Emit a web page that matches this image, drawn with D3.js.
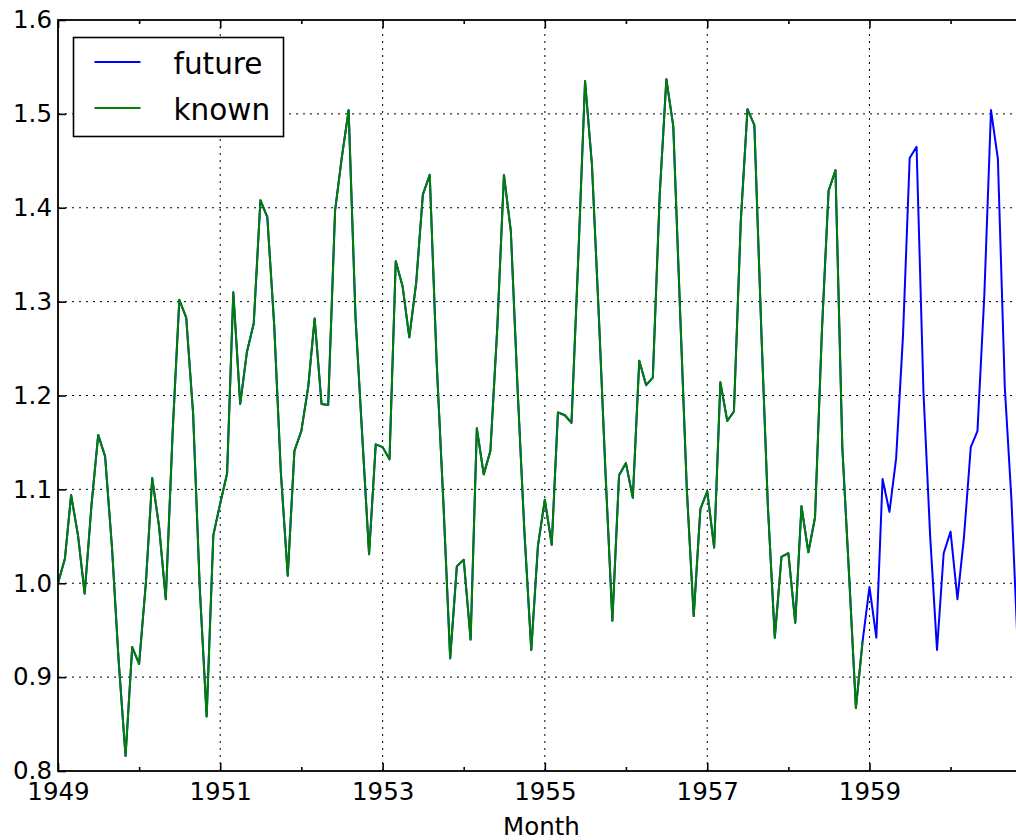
<!DOCTYPE html>
<html>
<head>
<meta charset="utf-8">
<script src="https://cdn.jsdelivr.net/npm/d3@7/dist/d3.min.js"></script>
<style>
  body { margin: 0; overflow: hidden; background: #fff; }
  svg { display: block; }
</style>
</head>
<body>
<script>
// monthly ratio values, Jan 1949 onwards
var knownValues = [
  1.000, 1.026, 1.094, 1.051, 0.989, 1.084, 1.158, 1.135, 1.038, 0.917, 0.816, 0.932,
  0.914, 1.002, 1.112, 1.060, 0.983, 1.161, 1.302, 1.283, 1.181, 0.995, 0.858, 1.051,
  1.085, 1.117, 1.310, 1.191, 1.246, 1.277, 1.408, 1.390, 1.275, 1.118, 1.008, 1.141,
  1.162, 1.209, 1.282, 1.191, 1.190, 1.397, 1.453, 1.504, 1.283, 1.158, 1.031, 1.148,
  1.145, 1.132, 1.343, 1.316, 1.262, 1.320, 1.414, 1.435, 1.236, 1.088, 0.920, 1.018,
  1.025, 0.940, 1.165, 1.116, 1.141, 1.272, 1.435, 1.375, 1.204, 1.055, 0.929, 1.040,
  1.089, 1.041, 1.182, 1.179, 1.171, 1.350, 1.535, 1.446, 1.285, 1.118, 0.960, 1.115,
  1.128, 1.091, 1.237, 1.211, 1.219, 1.414, 1.537, 1.487, 1.288, 1.100, 0.965, 1.079,
  1.098, 1.038, 1.214, 1.173, 1.183, 1.386, 1.505, 1.488, 1.271, 1.081, 0.942, 1.028,
  1.032, 0.958, 1.082, 1.033, 1.070, 1.269, 1.418, 1.440, 1.144, 1.010, 0.867, 0.938
];
// the future series repeats the known part, then runs on through 1959-1960
var futureTail = [
  0.996, 0.942, 1.111, 1.076, 1.133, 1.264, 1.453, 1.465, 1.204, 1.051, 0.929, 1.032,
  1.055, 0.983, 1.048, 1.145, 1.162, 1.307, 1.504, 1.452, 1.209, 1.089, 0.916, 1.008
];
var futureValues = knownValues.concat(futureTail);

var startYear = 1949, startMonth = 0;
var majorYears = [1949, 1951, 1953, 1955, 1957, 1959];
var minorYears = [1950, 1952, 1954, 1956, 1958, 1960];
var yTickValues = [0.8, 0.9, 1.0, 1.1, 1.2, 1.3, 1.4, 1.5, 1.6];
var seriesNames = ["future", "known"];
var seriesColors = ["#0000ff", "#008000"];

var font = "DejaVu Sans, sans-serif";
var margin = {top: 20, left: 58},
    width = 967,      // right spine sits just past the window edge
    height = 751;

function monthDate(i) {
    return new Date(Date.UTC(startYear, startMonth + i, 1));
}
function yearDate(y) { return new Date(Date.UTC(y, 0, 1)); }

var x = d3.scaleUtc()
    .domain([monthDate(0), monthDate(futureValues.length - 1)])
    .range([0, width]);
var y = d3.scaleLinear()
    .domain([0.8, 1.6])
    .range([height, 0]);

var svg = d3.select("body").append("svg")
    .attr("width", 1016)
    .attr("height", 840);

var g = svg.append("g")
    .attr("transform", "translate(" + margin.left + "," + margin.top + ")");

// grid
var grid = g.append("g").attr("class", "grid")
    .attr("stroke", "#000")
    .attr("stroke-width", 1)
    .attr("stroke-dasharray", "2,5");
grid.selectAll("line.h")
    .data(yTickValues.slice(1, -1))
  .enter().append("line")
    .attr("class", "h")
    .attr("x1", 0).attr("x2", width)
    .attr("y1", function(d) { return y(d); })
    .attr("y2", function(d) { return y(d); });
grid.selectAll("line.v")
    .data(majorYears.slice(1))
  .enter().append("line")
    .attr("class", "v")
    .attr("y1", 0).attr("y2", height)
    .attr("x1", function(d) { return x(yearDate(d)); })
    .attr("x2", function(d) { return x(yearDate(d)); });

// series
var line = d3.line()
    .x(function(d, i) { return x(monthDate(i)); })
    .y(function(d) { return y(d); });

[futureValues, knownValues].forEach(function(vals, k) {
    g.append("path")
        .datum(vals)
        .attr("fill", "none")
        .attr("stroke", seriesColors[k])
        .attr("stroke-width", 2)
        .attr("stroke-linejoin", "round")
        .attr("d", line);
});

// axes, ticks pointing inward
var xAxis = d3.axisBottom(x)
    .tickValues(majorYears.map(yearDate))
    .tickFormat(d3.utcFormat("%Y"))
    .tickSizeInner(-8).tickSizeOuter(0)
    .tickPadding(12);
var xMinor = d3.axisBottom(x)
    .tickValues(minorYears.map(yearDate))
    .tickFormat("")
    .tickSizeInner(-4).tickSizeOuter(0);
var xTop = d3.axisTop(x)
    .tickValues(majorYears.map(yearDate))
    .tickFormat("")
    .tickSizeInner(-8).tickSizeOuter(0);
var xTopMinor = d3.axisTop(x)
    .tickValues(minorYears.map(yearDate))
    .tickFormat("")
    .tickSizeInner(-4).tickSizeOuter(0);
var yAxis = d3.axisLeft(y)
    .tickValues(yTickValues)
    .tickFormat(d3.format(".1f"))
    .tickSizeInner(-8).tickSizeOuter(0)
    .tickPadding(6);

function styleAxis(sel) {
    sel.select(".domain").remove();
    sel.selectAll(".tick line").attr("stroke", "#000").attr("stroke-width", 1.6);
    sel.selectAll(".tick text")
        .attr("fill", "#000")
        .style("font-family", font)
        .style("font-size", "24.5px");
}

g.append("g").attr("transform", "translate(0," + height + ")").call(xAxis).call(styleAxis);
g.append("g").attr("transform", "translate(0," + height + ")").call(xMinor).call(styleAxis);
g.append("g").call(xTop).call(styleAxis);
g.append("g").call(xTopMinor).call(styleAxis);
g.append("g").call(yAxis).call(styleAxis);

// spines
g.append("rect")
    .attr("width", width)
    .attr("height", height)
    .attr("fill", "none")
    .attr("stroke", "#000")
    .attr("stroke-width", 1.8);

// x label
g.append("text")
    .attr("x", width / 2)
    .attr("y", height + 64)
    .attr("text-anchor", "middle")
    .style("font-family", font)
    .style("font-size", "24.5px")
    .text("Month");

// legend
var legend = g.append("g").attr("transform", "translate(15.5,17.5)");
legend.append("rect")
    .attr("width", 210)
    .attr("height", 99)
    .attr("fill", "#fff")
    .attr("stroke", "#000")
    .attr("stroke-width", 1.6);
var item = legend.selectAll("g.item")
    .data(seriesNames)
  .enter().append("g")
    .attr("class", "item")
    .attr("transform", function(d, i) { return "translate(0," + (24.5 + i * 46) + ")"; });
item.append("line")
    .attr("x1", 21).attr("x2", 67)
    .attr("stroke", function(d, i) { return seriesColors[i]; })
    .attr("stroke-width", 2);
item.append("text")
    .attr("x", 100)
    .attr("y", 12)
    .style("font-family", font)
    .style("font-size", "29.5px")
    .text(function(d) { return d; });
</script>
</body>
</html>
